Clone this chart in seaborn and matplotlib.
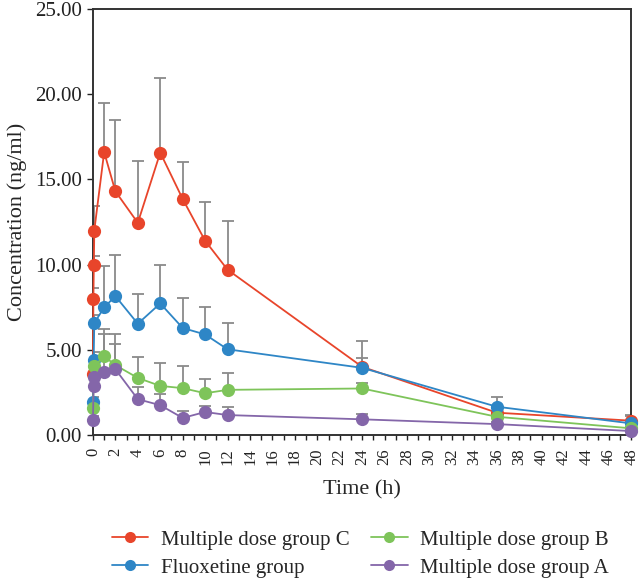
import numpy as np
import pandas as pd
import matplotlib
matplotlib.use("Agg")
import matplotlib.pyplot as plt
from matplotlib.lines import Line2D
from matplotlib.ticker import MultipleLocator
import seaborn as sns

# Sampling times (h); the first few points of each group sit right at t ~ 0.
main_times = [1, 2, 4, 6, 8, 10, 12, 24, 36, 48]

group_c_times = [0.0, 0.04, 0.08, 0.12] + main_times
group_c_mean = [3.6, 8.0, 10.0, 12.0, 16.6, 14.3, 12.45, 16.57, 13.85, 11.4, 9.7, 4.0, 1.31, 0.84]
group_c_sd = [0.8, 0.6, 0.5, 1.45, 2.9, 4.2, 3.65, 4.4, 2.15, 2.25, 2.87, 0.5, 0.3, 0.3]

fluox_times = [0.0, 0.06, 0.12] + main_times
fluox_mean = [1.95, 4.39, 6.57, 7.49, 8.15, 6.53, 7.72, 6.28, 5.9, 5.03, 3.94, 1.66, 0.68]
fluox_sd = [0.3, 0.5, 0.5, 2.41, 2.4, 1.76, 2.28, 1.77, 1.6, 1.57, 1.56, 0.58, 0.5]

group_b_times = [0.0, 0.12] + main_times
group_b_mean = [1.6, 4.05, 4.62, 4.1, 3.35, 2.88, 2.75, 2.45, 2.65, 2.73, 1.07, 0.39]
group_b_sd = [0.3, 0.6, 1.62, 1.85, 1.23, 1.35, 1.28, 0.85, 1.0, 0.3, 0.2, 0.1]

group_a_times = [0.0, 0.06, 0.12] + main_times
group_a_mean = [0.9, 2.9, 3.4, 3.67, 3.86, 2.1, 1.75, 1.0, 1.35, 1.17, 0.92, 0.64, 0.23]
group_a_sd = [0.2, 0.3, 0.3, 2.28, 1.5, 0.7, 0.65, 0.4, 0.35, 0.48, 0.31, 0.1, 0.1]

group_names = ["Multiple dose group C", "Fluoxetine group",
               "Multiple dose group B", "Multiple dose group A"]
colors = ["#E8452B", "#2E86C6", "#7EC45A", "#8466A9"]

series = [
    (group_c_times, group_c_mean, group_c_sd),
    (fluox_times, fluox_mean, fluox_sd),
    (group_b_times, group_b_mean, group_b_sd),
    (group_a_times, group_a_mean, group_a_sd),
]

frames = []
for name, (t, m, s) in zip(group_names, series):
    frames.append(pd.DataFrame({"time": t, "conc": m, "sd": s, "group": name}))
df = pd.concat(frames, ignore_index=True)

sns.set_style("ticks")
plt.rcParams["font.family"] = ["Liberation Serif", "DejaVu Serif"]

fig = plt.figure(figsize=(6.41, 5.8), dpi=100)
ax = fig.add_axes([0.145, 0.25, 0.840, 0.7345])

# Upper-only error bars, drawn under the lines.
for name, (t, m, s) in zip(group_names, series):
    ax.errorbar(t, m, yerr=[np.zeros(len(s)), s], fmt="none",
                ecolor="#8a8a8a", elinewidth=1.3, capsize=4, capthick=1.3, zorder=1)

palette = dict(zip(group_names, colors))
sns.lineplot(data=df, x="time", y="conc", hue="group", hue_order=group_names,
             palette=palette, marker="o", markersize=9.5, markeredgewidth=0,
             linewidth=1.3, errorbar=None, legend=False, ax=ax, zorder=3,
             clip_on=False)

ax.set_xlim(0, 48)
ax.set_ylim(0, 25)
ax.xaxis.set_major_locator(MultipleLocator(2))
ax.xaxis.set_minor_locator(MultipleLocator(1))
ax.yaxis.set_major_locator(MultipleLocator(5))
ax.set_yticklabels([f"{v:.2f}" for v in ax.get_yticks()])
ax.tick_params(axis="x", which="both", direction="out", length=3.5, width=1,
               labelsize=12, rotation=90, pad=6, colors="#222222")
ax.tick_params(axis="y", direction="out", length=4, width=1, labelsize=15, pad=4,
               colors="#222222")
for side in ["left", "right", "top", "bottom"]:
    ax.spines[side].set_visible(True)
    ax.spines[side].set_linewidth(1.4)
    ax.spines[side].set_color("#333333")

ax.set_xlabel("Time (h)", fontsize=16, labelpad=11)
ax.set_ylabel("Concentration (ng/ml)", fontsize=16, labelpad=6)

handles = [Line2D([], [], color=c, marker="o", markersize=8, markeredgewidth=0,
                  linewidth=1.3) for c in colors]
fig.legend(handles, group_names, loc="center", bbox_to_anchor=(0.562, 0.045),
           ncol=2, frameon=False, fontsize=15, handlelength=1.75,
           handletextpad=0.6, columnspacing=1.05, labelspacing=0.4,
           borderpad=0, borderaxespad=0)

fig.savefig("out.png", dpi=100)
